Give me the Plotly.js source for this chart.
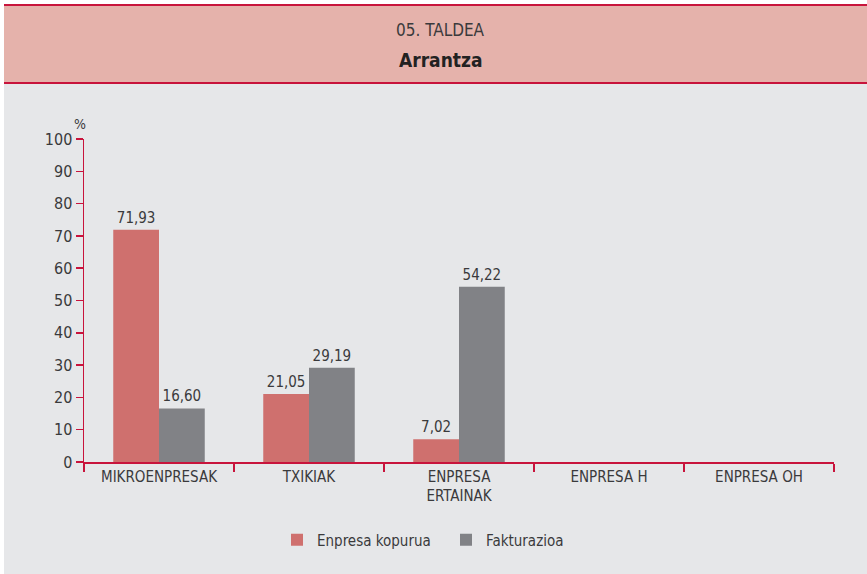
<!DOCTYPE html>
<html><head><meta charset="utf-8">
<script src="https://cdn.plot.ly/plotly-3.0.1.min.js"></script>
<style>html,body{margin:0;padding:0;background:#fff}#chart{width:867px;height:574px}</style>
</head><body><div id="chart"></div>
<script>
const categories = ["MIKROENPRESAK", "TXIKIAK", "ENPRESA<br>ERTAINAK", "ENPRESA H", "ENPRESA OH"];
const enpresaKopurua = [71.93, 21.05, 7.02, null, null];
const fakturazioa = [16.60, 29.19, 54.22, null, null];
const seriesNames = ["Enpresa kopurua", "Fakturazioa"];
const yTicks = [0, 10, 20, 30, 40, 50, 60, 70, 80, 90, 100];

const FONT = '"Liberation Sans Narrow", "DejaVu Sans Condensed", "Roboto Condensed", sans-serif';
const AXIS = '#c8143c';
const TXT = '#3a3a3c';
const fmt = v => v == null ? '' : v.toFixed(2).replace('.', ',');

const traces = [
  {type:'bar', name:seriesNames[0], x:categories, y:enpresaKopurua,
   marker:{color:'#cf706e'}, text:enpresaKopurua.map(fmt), textposition:'outside',
   textfont:{family:FONT, size:15, color:TXT}, cliponaxis:false, hoverinfo:'skip'},
  {type:'bar', name:seriesNames[1], x:categories, y:fakturazioa,
   marker:{color:'#818286'}, text:fakturazioa.map(fmt), textposition:'outside',
   textfont:{family:FONT, size:15, color:TXT}, cliponaxis:false, hoverinfo:'skip'}
];

const L=84, R=33, T=139, B=112, W=867, H=574;
const pw = W-L-R, ph = H-T-B;
const px = x => (x-L)/pw;
const py = y => (H-B-y)/ph;

const layout = {
  width:W, height:H,
  margin:{l:L, r:R, t:T, b:B, pad:0},
  paper_bgcolor:'#e6e7e9', plot_bgcolor:'rgba(0,0,0,0)',
  font:{family:FONT, color:TXT, size:15},
  barmode:'group', bargap:0.39, bargroupgap:0,
  showlegend:true,
  legend:{orientation:'h', x:px(277), xanchor:'left', y:py(540), yanchor:'middle',
          font:{family:FONT, size:15, color:TXT}, itemwidth:30, entrywidth:124, entrywidthmode:'pixels',
          bgcolor:'rgba(0,0,0,0)'},
  xaxis:{type:'category', showgrid:false, zeroline:false, showline:true, linecolor:AXIS, linewidth:1.5,
         ticks:'outside', tickson:'boundaries', ticklen:8, tickcolor:AXIS, tickwidth:1.5,
         tickfont:{family:FONT, size:15, color:TXT}, fixedrange:true},
  yaxis:{range:[0,100], tickvals:yTicks, showgrid:false, zeroline:false, showline:true,
         linecolor:AXIS, linewidth:1.5, ticks:'outside', ticklen:7, tickcolor:AXIS, tickwidth:1.5,
         tickfont:{family:FONT, size:16, color:TXT}, fixedrange:true},
  shapes:[
    {type:'rect', xref:'paper', yref:'paper', x0:px(0), x1:px(4), y0:py(574), y1:py(0), fillcolor:'#ffffff', line:{width:0}, layer:'below'},
    {type:'rect', xref:'paper', yref:'paper', x0:px(0), x1:px(867), y0:py(4), y1:py(0), fillcolor:'#ffffff', line:{width:0}, layer:'below'},
    {type:'rect', xref:'paper', yref:'paper', x0:px(4), x1:px(867), y0:py(84), y1:py(4), fillcolor:'#e5b2ab', line:{width:0}, layer:'below'},
    {type:'line', xref:'paper', yref:'paper', x0:px(4), x1:px(867), y0:py(5), y1:py(5), line:{color:AXIS, width:2}},
    {type:'line', xref:'paper', yref:'paper', x0:px(4), x1:px(867), y0:py(83), y1:py(83), line:{color:AXIS, width:2}}
  ],
  annotations:[
    {xref:'paper', yref:'paper', x:px(440), y:py(30), text:'05. TALDEA', showarrow:false,
     font:{family:FONT, size:17, color:TXT}, xanchor:'center', yanchor:'middle'},
    {xref:'paper', yref:'paper', x:px(440), y:py(60), text:'<b>Arrantza</b>', showarrow:false,
     font:{family:FONT, size:19, color:'#222'}, xanchor:'center', yanchor:'middle'},
    {xref:'paper', yref:'paper', x:px(80), y:py(124), text:'%', showarrow:false,
     font:{family:FONT, size:14, color:TXT}, xanchor:'center', yanchor:'middle'}
  ]
};
Plotly.newPlot('chart', traces, layout, {displayModeBar:false, staticPlot:true});
</script></body></html>
